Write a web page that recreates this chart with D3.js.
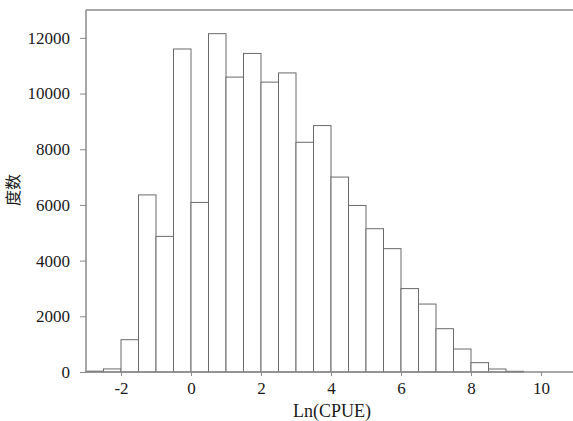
<!DOCTYPE html>
<html><head><meta charset="utf-8">
<script src="https://cdn.jsdelivr.net/npm/d3@7"></script>
<style>
html,body{margin:0;padding:0;background:#fff;}
svg{display:block;}
text{font-family:"Liberation Serif","Times New Roman",serif;fill:#1a1a1a;}
</style></head>
<body>
<script>
// bin start edges (bin width 0.5) and counts
const binStarts = [-3,-2.5,-2,-1.5,-1,-0.5,0,0.5,1,1.5,2,2.5,3,3.5,4,4.5,5,5.5,6,6.5,7,7.5,8,8.5,9];
const counts = [30,110,1160,6360,4870,11600,6090,12150,10590,11440,10410,10740,8250,8850,7000,5980,5145,4430,2995,2440,1555,825,335,108,25];
const binWidth = 0.5;
const xTicks = [-2,0,2,4,6,8,10];
const yTicks = [0,2000,4000,6000,8000,10000,12000];
const xLabel = "Ln(CPUE)";
const yLabel = "度数";

const W = 573, H = 421;
const svg = d3.select("body").append("svg").attr("width", W).attr("height", H);

const x = d3.scaleLinear().domain([-3, 10.9]).range([86, 572.5]);
const y = d3.scaleLinear().domain([0, 13000]).range([372, 10]);

// bars
svg.append("g").selectAll("rect").data(binStarts).join("rect")
  .attr("x", (d) => x(d))
  .attr("width", (d) => x(d + binWidth) - x(d))
  .attr("y", (d, i) => y(counts[i]))
  .attr("height", (d, i) => y(0) - y(counts[i]))
  .attr("fill", "#fff")
  .attr("stroke", "#6a6a6a")
  .attr("stroke-width", 1);

// frame: top line
svg.append("line").attr("x1", 86).attr("x2", W).attr("y1", 10).attr("y2", 10)
  .attr("stroke", "#8a8a8a").attr("stroke-width", 1.5);

const fmt = (d) => String(d);

// x axis
const xAxis = svg.append("g").attr("transform", "translate(0,372)")
  .call(d3.axisBottom(x).tickValues(xTicks).tickFormat(fmt).tickSize(4).tickSizeOuter(0).tickPadding(6));
xAxis.select(".domain").attr("stroke", "#8a8a8a").attr("stroke-width", 1.5).attr("d", `M86,0H${W}`);
xAxis.selectAll(".tick line").attr("stroke", "#8a8a8a");
xAxis.selectAll("text").attr("font-size", 17);

// y axis
const yAxis = svg.append("g").attr("transform", "translate(86,0)")
  .call(d3.axisLeft(y).tickValues(yTicks).tickFormat(fmt).tickSize(6).tickSizeOuter(0).tickPadding(10));
yAxis.select(".domain").attr("stroke", "#8a8a8a").attr("stroke-width", 1.5).attr("d", "M0,10V372");
yAxis.selectAll(".tick line").attr("stroke", "#8a8a8a");
yAxis.selectAll("text").attr("font-size", 17);

// axis titles
svg.append("text").attr("x", 332).attr("y", 417).attr("text-anchor", "middle")
  .attr("font-size", 18).text(xLabel);
svg.append("text").attr("transform", "translate(19,190) rotate(-90)")
  .attr("text-anchor", "middle").attr("font-size", 16)
  .style("font-family", "'Noto Sans CJK SC'").text(yLabel);
</script>
</body></html>
